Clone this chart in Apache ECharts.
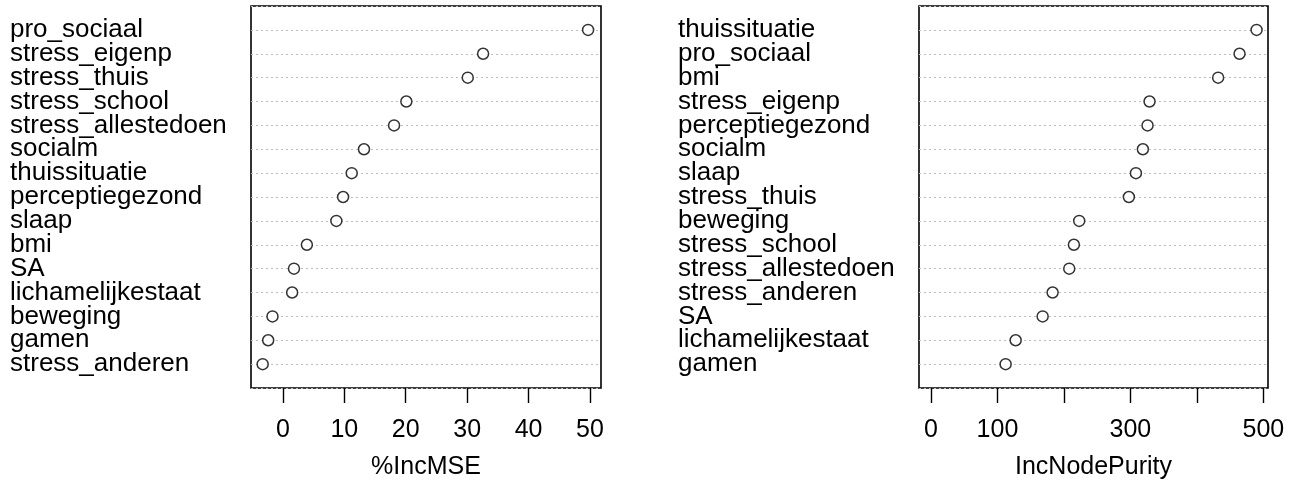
<!DOCTYPE html>
<html>
<head>
<meta charset="utf-8">
<script src="https://cdn.jsdelivr.net/npm/echarts@6/dist/echarts.min.js"></script>
<style>
  html, body { margin: 0; padding: 0; background: #fff; }
  #chart { width: 1303px; height: 485px; }
</style>
</head>
<body>
<div id="chart"></div>
<script>
// variabelen, van boven naar onder zoals in de plot
var mseLabels = ['pro_sociaal', 'stress_eigenp', 'stress_thuis', 'stress_school', 'stress_allestedoen',
  'socialm', 'thuissituatie', 'perceptiegezond', 'slaap', 'bmi', 'SA', 'lichamelijkestaat',
  'beweging', 'gamen', 'stress_anderen'];
var mseValues = [49.7, 32.6, 30.1, 20.1, 18.1, 13.2, 11.2, 9.8, 8.7, 3.9, 1.8, 1.5, -1.7, -2.4, -3.3];

var purityLabels = ['thuissituatie', 'pro_sociaal', 'bmi', 'stress_eigenp', 'perceptiegezond',
  'socialm', 'slaap', 'stress_thuis', 'beweging', 'stress_school', 'stress_allestedoen',
  'stress_anderen', 'SA', 'lichamelijkestaat', 'gamen'];
var purityValues = [489.8, 464.2, 432, 328.8, 325.8, 318.8, 308.3, 297.7, 223, 215, 208, 183, 168, 127.4, 112.3];

// as-ticks
var mseTicks = [0, 10, 20, 30, 40, 50];
var mseTickLabels = [0, 10, 20, 30, 40, 50];
var purityTicks = [0, 100, 200, 300, 400, 500];
var purityTickLabels = [0, 100, 300, 500];

var font = 'Liberation Sans, Arial, sans-serif';
var n = mseLabels.length;

// punten: rij 1 bovenaan -> y = n
function toPoints(values) {
  return values.map(function (v, i) { return [v, n - i]; });
}

function yAxis(idx, labels) {
  return {
    type: 'value', gridIndex: idx, min: 0, max: n + 1, interval: 1,
    axisLine: { show: false }, axisTick: { show: false },
    splitLine: { show: true, lineStyle: { color: '#bdbdbd', type: [2, 3], width: 1 } },
    axisLabel: {
      align: 'left', margin: 241, fontSize: 26, color: '#000', fontFamily: font,
      formatter: function (v) {
        if (v < 1 || v > n) return '';
        return labels[n - v];
      }
    }
  };
}

function xAxis(idx, min, max, ticks, tickLabels, name) {
  return {
    type: 'value', gridIndex: idx, min: min, max: max,
    name: name, nameLocation: 'middle', nameGap: 67,
    nameTextStyle: { fontSize: 25, color: '#000', fontFamily: font },
    axisLine: { show: false },
    axisTick: { show: true, length: 15, lineStyle: { color: '#000', width: 1.4 }, customValues: ticks },
    axisLabel: { margin: 30, fontSize: 25, color: '#000', fontFamily: font, customValues: tickLabels },
    splitLine: { show: false }
  };
}

function series(idx, values) {
  return {
    type: 'scatter', xAxisIndex: idx, yAxisIndex: idx,
    symbol: 'circle', symbolSize: 11,
    itemStyle: { color: '#fff', borderColor: '#000', borderWidth: 1.5 },
    data: toPoints(values)
  };
}

var chart = echarts.init(document.getElementById('chart'));
var option = {
  animation: false,
  backgroundColor: '#fff',
  grid: [
    { left: 251, right: 702, top: 6, bottom: 97, show: true, borderColor: '#000', borderWidth: 1.6, backgroundColor: 'transparent' },
    { left: 919, right: 35, top: 6, bottom: 97, show: true, borderColor: '#000', borderWidth: 1.6, backgroundColor: 'transparent' }
  ],
  xAxis: [
    xAxis(0, -5.2, 51.8, mseTicks, mseTickLabels, '%IncMSE'),
    xAxis(1, -18, 507, purityTicks, purityTickLabels, 'IncNodePurity')
  ],
  yAxis: [yAxis(0, mseLabels), yAxis(1, purityLabels)],
  series: [series(0, mseValues), series(1, purityValues)]
};
chart.setOption(option);
</script>
</body>
</html>
